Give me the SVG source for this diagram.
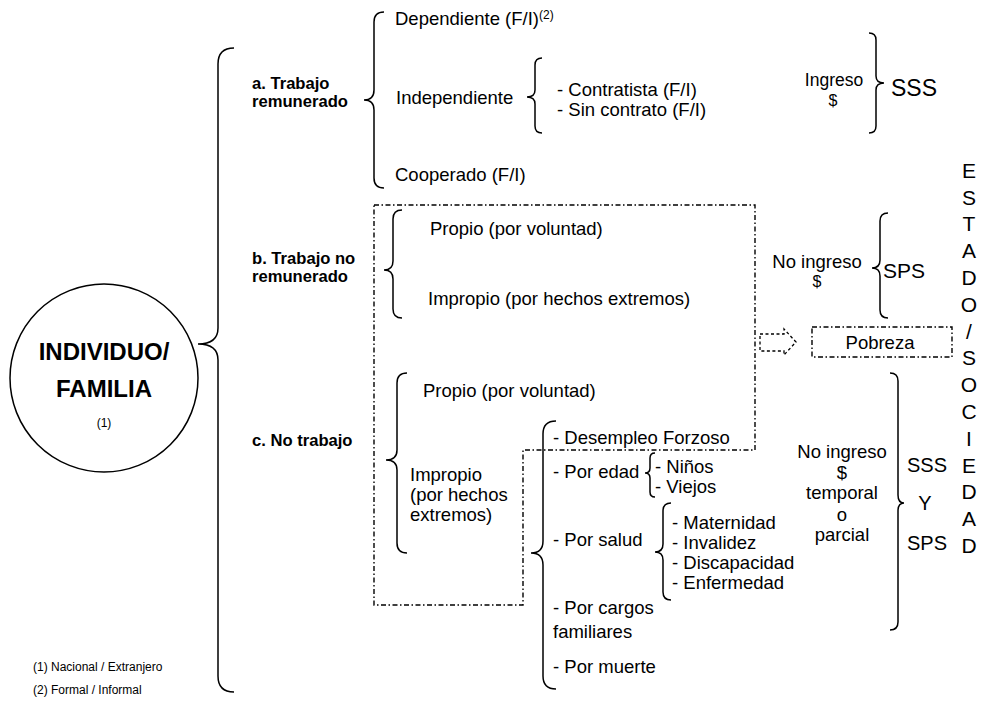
<svg xmlns="http://www.w3.org/2000/svg" width="982" height="709" viewBox="0 0 982 709">
<style>
text{font-family:"Liberation Sans",Arial,sans-serif;fill:#000}
.t{font-size:18.5px}
.b{font-size:16.6px;font-weight:bold}
.big{font-size:23px}
.s{font-size:12px}
.m{text-anchor:middle}
.br{fill:none;stroke:#000;stroke-width:1.5}
.dd{fill:none;stroke:#000;stroke-width:1.4;stroke-dasharray:5 2.5 1.5 2.5}
</style>
<rect width="982" height="709" fill="#fff"/>
<g id="connectors">
<path class="br" d="M234 48 Q218 48 218 64 L218 328 Q218 344 198 344 Q218 344 218 360 L218 676 Q218 692 234 692"/>
<path class="br" d="M384 12 Q374 12 374 22 L374 90 Q374 100 364 100 Q374 100 374 110 L374 178 Q374 188 384 188"/>
<path class="br" d="M542 58 Q535 58 535 65 L535 90 Q535 97 527 97 Q535 97 535 104 L535 126 Q535 133 542 133"/>
<path class="br" d="M869 33 Q876 33 876 40 L876 76 Q876 83 884 83 Q876 83 876 90 L876 126 Q876 133 869 133"/>
<path class="br" d="M402 210 Q393 210 393 219 L393 261 Q393 270 384 270 Q393 270 393 279 L393 309 Q393 318 402 318"/>
<path class="br" d="M888 213 Q880 213 880 221 L880 260 Q880 268 872 268 Q880 268 880 276 L880 310 Q880 318 888 318"/>
<path class="br" d="M407 373 Q397 373 397 383 L397 450 Q397 460 386 460 Q397 460 397 470 L397 543 Q397 553 407 553"/>
<path class="br" d="M556 421 Q543 421 543 434 L543 541 Q543 553 531 553 Q543 553 543 565 L543 676 Q543 689 556 689"/>
<path class="br" d="M655 453 Q650 453 650 458 L650 468 Q650 473 645 473 Q650 473 650 478 L650 492 Q650 497 655 497"/>
<path class="br" d="M671 503 Q663 503 663 511 L663 544 Q663 552 655 552 Q663 552 663 560 L663 592 Q663 600 671 600"/>
<path class="br" d="M890 373 Q898 373 898 381 L898 495 Q898 503 904 503 Q898 503 898 511 L898 622 Q898 630 890 630"/>
<path class="dd" d="M374 205 L755 205 L755 450 L523 450 L523 605 L374 605 Z"/>
<path fill="none" stroke="#000" stroke-width="1.3" stroke-dasharray="3 2.5" d="M760 334 L784 334 L784 329 L796 342 L784 355 L784 351 L760 351 Z"/>
</g>
<g id="individuo">
<circle cx="104" cy="378" r="94" fill="none" stroke="#000" stroke-width="1.5"/>
<text class="m" x="104" y="360" style="font-size:24px;font-weight:bold">INDIVIDUO/</text>
<text class="m" x="104" y="397" style="font-size:24px;font-weight:bold">FAMILIA</text>
<text class="m s" x="104" y="427">(1)</text>
</g>
<g id="notas">
<text class="s" x="33" y="671">(1) Nacional / Extranjero</text>
<text class="s" x="33" y="694">(2) Formal / Informal</text>
</g>
<g id="trabajo-remunerado">
<text class="b" x="252" y="89">a. Trabajo</text>
<text class="b" x="252" y="107">remunerado</text>
</g>
<g id="dependiente"><text class="t" x="395" y="25">Dependiente (F/I)<tspan class="s" dy="-6">(2)</tspan></text></g>
<g id="independiente"><text class="t" x="396" y="104">Independiente</text></g>
<g id="contratista">
<text class="t" x="557" y="96">- Contratista (F/I)</text>
<text class="t" x="557" y="116">- Sin contrato (F/I)</text>
</g>
<g id="cooperado"><text class="t" x="395" y="181">Cooperado (F/I)</text></g>
<g id="ingreso">
<text class="m" x="834" y="86" style="font-size:17.5px">Ingreso</text>
<text class="m" x="833" y="106" style="font-size:16px">$</text>
</g>
<g id="sss1"><text class="big" x="891" y="96">SSS</text></g>
<g id="trabajo-no-remunerado">
<text class="b" x="252" y="264">b. Trabajo no</text>
<text class="b" x="252" y="282">remunerado</text>
</g>
<g id="propio-b"><text class="t" x="430" y="235">Propio (por voluntad)</text></g>
<g id="impropio-b"><text class="t" x="428" y="305">Impropio (por hechos extremos)</text></g>
<g id="no-ingreso">
<text class="t m" x="817" y="268">No ingreso</text>
<text class="m" x="817" y="287" style="font-size:16px">$</text>
</g>
<g id="sps1"><text class="big" x="883" y="278" style="font-size:21px">SPS</text></g>
<g id="pobreza">
<rect class="dd" x="812" y="327" width="140" height="30"/>
<text class="t m" x="880" y="349">Pobreza</text>
</g>
<g id="no-trabajo"><text class="b" x="252" y="446">c. No trabajo</text></g>
<g id="propio-c"><text class="t" x="423" y="397">Propio (por voluntad)</text></g>
<g id="impropio-c">
<text class="t" x="410" y="481">Impropio</text>
<text class="t" x="410" y="501">(por hechos</text>
<text class="t" x="410" y="521">extremos)</text>
</g>
<g id="desempleo"><text class="t" x="553" y="444">- Desempleo Forzoso</text></g>
<g id="por-edad"><text class="t" x="553" y="478">- Por edad</text></g>
<g id="ninos-viejos">
<text class="t" x="655" y="473">- Niños</text>
<text class="t" x="655" y="493">- Viejos</text>
</g>
<g id="por-salud"><text class="t" x="553" y="546">- Por salud</text></g>
<g id="salud-items">
<text class="t" x="672" y="529">- Maternidad</text>
<text class="t" x="672" y="549">- Invalidez</text>
<text class="t" x="672" y="569">- Discapacidad</text>
<text class="t" x="672" y="589">- Enfermedad</text>
</g>
<g id="por-cargos">
<text class="t" x="553" y="614">- Por cargos</text>
<text class="t" x="553" y="638">familiares</text>
</g>
<g id="por-muerte"><text class="t" x="553" y="673">- Por muerte</text></g>
<g id="no-ingreso-temporal">
<text class="t m" x="842" y="458">No ingreso</text>
<text class="t m" x="842" y="479">$</text>
<text class="t m" x="842" y="499">temporal</text>
<text class="t m" x="842" y="521">o</text>
<text class="t m" x="842" y="541">parcial</text>
</g>
<g id="sss-sps">
<text style="font-size:20px" x="907" y="472">SSS</text>
<text class="m" style="font-size:20px" x="925" y="510">Y</text>
<text style="font-size:20px" x="907" y="550">SPS</text>
</g>
<g id="estado-sociedad" style="font-size:21px" text-anchor="middle">
<text x="969" y="178">E</text>
<text x="969" y="205">S</text>
<text x="969" y="231">T</text>
<text x="969" y="258">A</text>
<text x="969" y="285">D</text>
<text x="969" y="312">O</text>
<text x="969" y="339">/</text>
<text x="969" y="365">S</text>
<text x="969" y="392">O</text>
<text x="969" y="419">C</text>
<text x="969" y="446">I</text>
<text x="969" y="473">E</text>
<text x="969" y="499">D</text>
<text x="969" y="526">A</text>
<text x="969" y="553">D</text>
</g>
</svg>
